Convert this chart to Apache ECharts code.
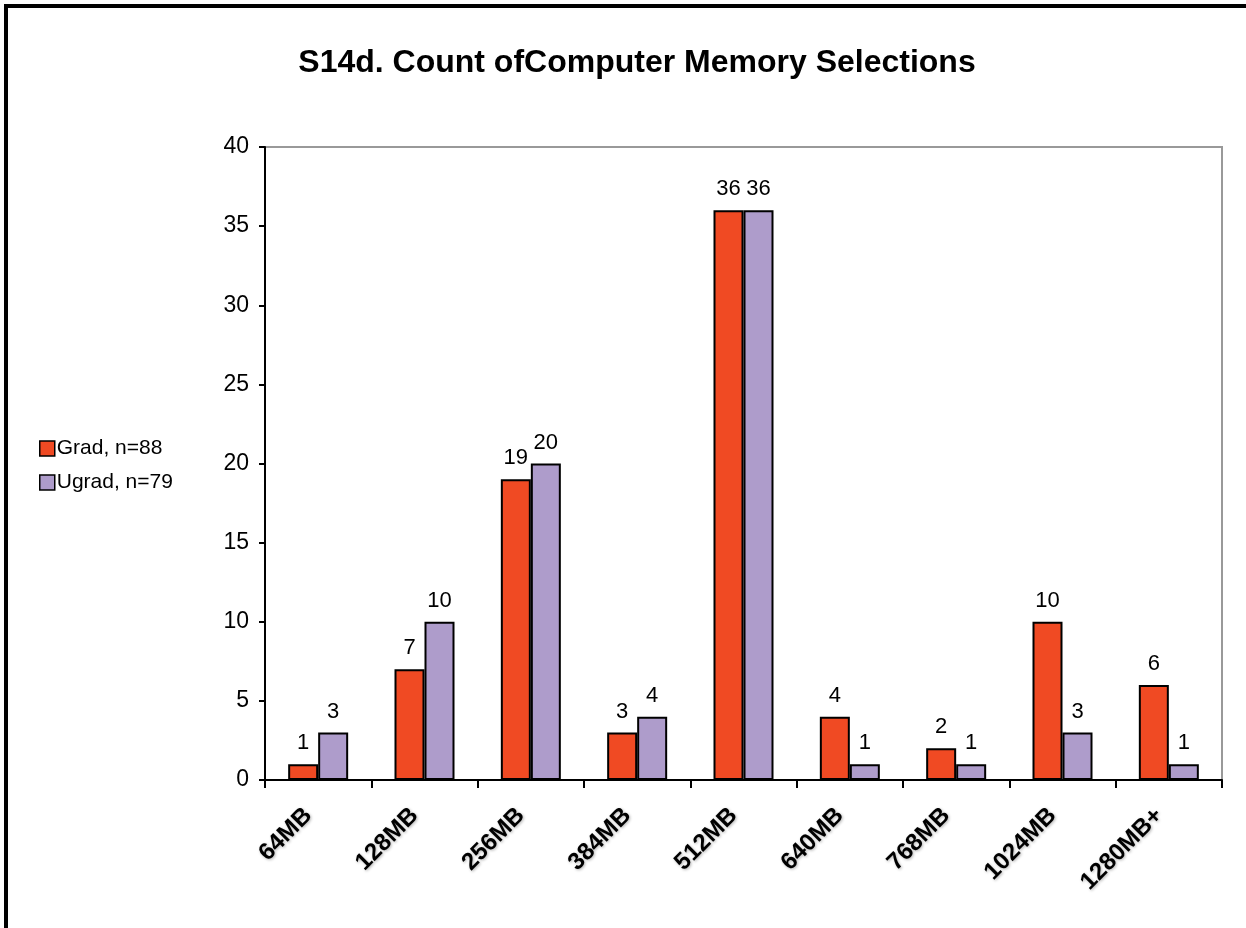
<!DOCTYPE html>
<html>
<head>
<meta charset="utf-8">
<style>
  html, body { margin: 0; padding: 0; background: #fff; }
  #chart { width: 1246px; height: 928px; }
</style>
<script src="https://cdn.jsdelivr.net/npm/echarts@6/dist/echarts.min.js"></script>
</head>
<body>
<div id="chart"></div>
<script>
// categories and values
const memoryCategories = ['64MB', '128MB', '256MB', '384MB', '512MB', '640MB', '768MB', '1024MB', '1280MB+'];
const gradValues = [1, 7, 19, 3, 36, 4, 2, 10, 6];
const ugradValues = [3, 10, 20, 4, 36, 1, 1, 3, 1];
const seriesNames = ['Grad, n=88', 'Ugrad, n=79'];
const yTicks = [0, 5, 10, 15, 20, 25, 30, 35, 40];

const fontFamily = '"Liberation Sans", Arial, sans-serif';

function makeSeries(name, data, color) {
    return {
        name: name,
        type: 'bar',
        data: data,
        barWidth: 30,
        barGap: '0%',
        itemStyle: { color: color, borderColor: '#000', borderWidth: 2 },
        label: {
            show: true,
            position: 'top',
            distance: 10,
            color: '#000',
            fontSize: 22,
            fontFamily: fontFamily
        }
    };
}

const chart = echarts.init(document.getElementById('chart'));
chart.setOption({
    backgroundColor: '#fff',
    animation: false,
    title: {
        text: 'S14d. Count ofComputer Memory Selections',
        left: 632,
        top: 42,
        textAlign: 'center',
        textStyle: { fontFamily: fontFamily, fontSize: 32, fontWeight: 'bold', color: '#000' }
    },
    legend: {
        orient: 'vertical',
        left: 34,
        top: 433,
        itemWidth: 15,
        itemHeight: 15,
        itemGap: 13,
        icon: 'rect',
        itemStyle: { borderColor: '#000', borderWidth: 1.5 },
        textStyle: { fontFamily: fontFamily, fontSize: 21, color: '#000', padding: [0, 0, 0, -3] },
        data: seriesNames
    },
    grid: {
        left: 265,
        right: 24,
        top: 147,
        bottom: 148,
        show: true,
        borderColor: '#999',
        borderWidth: 2,
        backgroundColor: '#fff'
    },
    xAxis: {
        type: 'category',
        data: memoryCategories,
        axisLine: { lineStyle: { color: '#000', width: 2 } },
        axisTick: { show: true, length: 8, alignWithLabel: false, lineStyle: { color: '#000', width: 2 } },
        axisLabel: {
            rotate: 45,
            margin: 22,
            interval: 0,
            padding: [0, 14, 0, 0],
            fontFamily: fontFamily,
            fontSize: 24,
            fontWeight: 'bold',
            color: '#000',
            textShadowColor: 'rgba(0,0,0,0.3)',
            textShadowBlur: 3,
            textShadowOffsetX: 1,
            textShadowOffsetY: 1
        }
    },
    yAxis: {
        type: 'value',
        min: yTicks[0],
        max: yTicks[yTicks.length - 1],
        interval: 5,
        axisLine: { show: true, lineStyle: { color: '#000', width: 2 } },
        axisTick: { show: true, inside: false, length: 6, lineStyle: { color: '#000', width: 2 } },
        splitLine: { show: false },
        axisLabel: { fontFamily: fontFamily, fontSize: 23, color: '#000', margin: 16 }
    },
    graphic: [
        {
            type: 'rect',
            shape: { x: 6, y: 6, width: 1400, height: 1100 },
            style: { fill: 'none', stroke: '#000', lineWidth: 4 },
            silent: true
        }
    ],
    series: [
        makeSeries(seriesNames[0], gradValues, '#F04A23'),
        makeSeries(seriesNames[1], ugradValues, '#AE9CCB')
    ]
});
</script>
</body>
</html>
